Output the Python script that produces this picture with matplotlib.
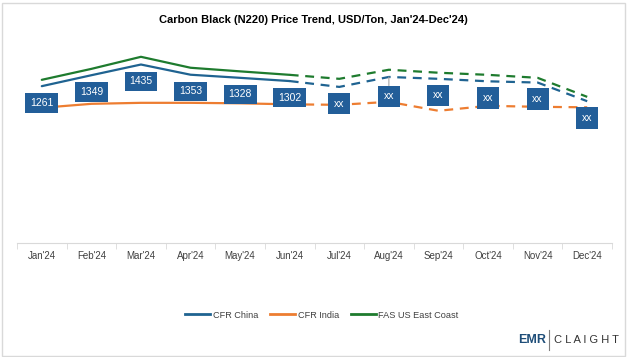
import matplotlib.pyplot as plt
from matplotlib.patches import Rectangle
from matplotlib.lines import Line2D

# Data (USD/Ton)
months = ["Jan'24", "Feb'24", "Mar'24", "Apr'24", "May'24", "Jun'24",
          "Jul'24", "Aug'24", "Sep'24", "Oct'24", "Nov'24", "Dec'24"]
cfr_china = [1261, 1349, 1435, 1353, 1328, 1302, 1255, 1335, 1320, 1300, 1290, 1140]
cfr_india = [1087, 1119, 1127, 1127, 1123, 1115, 1111, 1135, 1063, 1103, 1095, 1091]
fas_us = [1312, 1400, 1497, 1409, 1380, 1352, 1320, 1393, 1369, 1352, 1328, 1175]
china_labels = ["1261", "1349", "1435", "1353", "1328", "1302",
                "xx", "xx", "xx", "xx", "xx", "xx"]
n_actual = 6  # Jan-Jun solid, Jun-Dec dashed (forecast)

c_china = "#1F6391"
c_india = "#ED7D31"
c_us = "#1E7B2E"
c_box = "#225E99"

plt.rcParams['font.family'] = ['Liberation Sans', 'DejaVu Sans']

fig = plt.figure(figsize=(6.27, 3.57), dpi=100)
ax = fig.add_axes([17 / 627, 114 / 357, 595 / 627, 199 / 357])

x = list(range(len(months)))
series = [(fas_us, c_us), (cfr_china, c_china), (cfr_india, c_india)]
for vals, col in series:
    ax.plot(x[:n_actual], vals[:n_actual], color=col, lw=1.6, solid_capstyle='round')
    ax.plot(x[n_actual - 1:], vals[n_actual - 1:], color=col, lw=1.6,
            linestyle=(0, (4, 3)))

# data labels under the CFR China line
for i, (v, lab) in enumerate(zip(cfr_china, china_labels)):
    arrow = None
    if months[i] == "Aug'24":
        arrow = dict(arrowstyle='-', color='#A6A6A6', lw=0.8, shrinkA=0, shrinkB=0)
    off = -14 if arrow else -12
    pad = 0.45 if lab != "xx" else 0.55
    ax.annotate(lab, (i, v), xytext=(0, off), textcoords='offset points',
                ha='center', va='center', color='white', fontsize=7.5,
                bbox=dict(boxstyle=f'square,pad={pad}', fc=c_box, ec='none'),
                arrowprops=arrow, zorder=5)

ax.set_xlim(-0.5, len(months) - 0.5)
ax.set_ylim(0, 1600)
ax.set_xticks(x)
ax.set_xticklabels(months, fontsize=7, color='#404040')
ax.set_xticks([i - 0.5 for i in range(len(months) + 1)], minor=True)
ax.tick_params(axis='x', which='major', length=0, pad=6)
ax.tick_params(axis='x', which='minor', length=4, color='#D9D9D9')
ax.set_yticks([])
for s in ['top', 'right', 'left']:
    ax.spines[s].set_visible(False)
ax.spines['bottom'].set_color('#D9D9D9')

fig.text(0.5, 1 - 20 / 357, "Carbon Black (N220) Price Trend, USD/Ton, Jan'24-Dec'24)",
         ha='center', va='center', fontsize=8, fontweight='bold', color='black')

handles = [Line2D([], [], color=c_china, lw=2),
           Line2D([], [], color=c_india, lw=2),
           Line2D([], [], color=c_us, lw=2)]
fig.legend(handles, ["CFR China", "CFR India", "FAS US East Coast"],
           loc='center', bbox_to_anchor=(322 / 627, 1 - 315 / 357), ncol=3,
           frameon=False, fontsize=6.6, handlelength=2.7, handletextpad=0.3,
           columnspacing=1.3, labelcolor='#404040')

# logo
fig.text(532 / 627, 1 - 340 / 357, "EMR", ha='center', va='center',
         fontsize=9, fontweight='bold', color='#1F4E79')
fig.add_artist(Line2D([549 / 627, 549 / 627], [1 - 330 / 357, 1 - 350 / 357],
                      color='#7F7F7F', lw=0.8))
fig.text(586 / 627, 1 - 340 / 357, "C L A I G H T", ha='center', va='center',
         fontsize=8, color='#333333')

# outer border
fig.add_artist(Rectangle((1.5 / 627, 1.5 / 357), 623 / 627, 353 / 357,
                         transform=fig.transFigure, fill=False, ec='#D9D9D9', lw=1))

fig.savefig("out.png", dpi=100)
